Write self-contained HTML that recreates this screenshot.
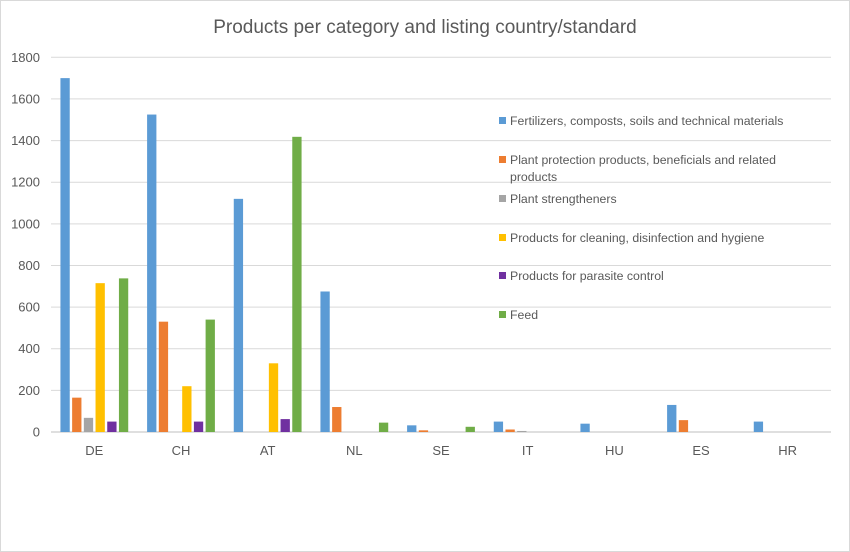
<!DOCTYPE html>
<html><head><meta charset="utf-8"><style>
body{margin:0;background:#fff;}
svg{display:block;font-family:"Liberation Sans",Arial,sans-serif;}
</style></head><body>
<svg id="chart" width="850" height="552">
<rect x="0.5" y="0.5" width="849" height="551" fill="#fff" stroke="#d9d9d9"/>
<text x="425" y="33" text-anchor="middle" font-size="19" fill="#595959">Products per category and listing country/standard</text>
<g id="grid"></g><g id="bars"></g><g id="xlabels"></g><g id="legend"></g>
</svg>
<script>
const categories=["DE","CH","AT","NL","SE","IT","HU","ES","HR"];
const seriesNames=["Fertilizers, composts, soils and technical materials","Plant protection products, beneficials and related products","Plant strengtheners","Products for cleaning, disinfection and hygiene","Products for parasite control","Feed"];
const fertilizers=[1700,1525,1120,675,32,50,40,130,50];
const plantProtection=[165,530,0,120,8,12,0,57,0];
const strengtheners=[68,0,0,0,0,5,0,0,0];
const cleaning=[715,220,330,0,0,0,0,0,0];
const parasite=[50,50,62,0,0,0,0,0,0];
const feed=[738,540,1418,45,25,0,0,0,0];
const yTicks=[0,200,400,600,800,1000,1200,1400,1600,1800];
const colors=["#5b9bd5","#ed7d31","#a5a5a5","#ffc000","#7030a0","#70ad47"];
const series=[fertilizers,plantProtection,strengtheners,cleaning,parasite,feed];
const NS="http://www.w3.org/2000/svg";
const L=51,R=831,T=57.3,B=432,yMax=1800;
const y=v=>B-(v/yMax)*(B-T);
const step=(R-L)/categories.length;
const xc=i=>L+step*(i+0.5);
const pitch=11.7,bw=9.3;
function mk(t,a,p){const e=document.createElementNS(NS,t);for(const k in a)e.setAttribute(k,a[k]);p.appendChild(e);return e;}
const grid=document.getElementById('grid');
yTicks.forEach(v=>{
 const l=mk('line',{x1:L,x2:R,y1:y(v),y2:y(v),stroke:v===0?'#bfbfbf':'#d9d9d9','stroke-width':1},grid);
 
 
 const t=mk('text',{x:40,y:y(v)+4.5,'text-anchor':'end','font-size':13,fill:'#595959'},grid);
 t.textContent=v;
 
 
});
const bars=document.getElementById('bars');
series.forEach((s,si)=>{
 s.forEach((v,i)=>{
  if(v<=0)return;
  const x=xc(i)+(si-2.5)*pitch-bw/2;
  const r=mk('rect',{x:x,y:y(v),width:bw,height:B-y(v),fill:colors[si]},bars);
  
  
 });
});
const xl=document.getElementById('xlabels');
categories.forEach((c,i)=>{
 const t=mk('text',{x:xc(i),y:455,'text-anchor':'middle','font-size':13,fill:'#595959'},xl);
 t.textContent=c;
 
 
});
const lg=document.getElementById('legend');
const ly=[121,160,199,238,276,315];
seriesNames.forEach((n,i)=>{
 const g=mk('g',{},lg);
 
 
 mk('rect',{x:499,y:ly[i]-4,width:7,height:7,fill:colors[i]},g);
 if(i===1){
  const t1=mk('text',{x:510,y:ly[i]+4,'font-size':12.3,fill:'#595959'},g);t1.textContent="Plant protection products, beneficials and related";
  const t2=mk('text',{x:510,y:ly[i]+21,'font-size':12.3,fill:'#595959'},g);t2.textContent="products";
 } else {
  const t=mk('text',{x:510,y:ly[i]+4,'font-size':12.3,fill:'#595959'},g);t.textContent=n;
 }
});
</script>
</body></html>
